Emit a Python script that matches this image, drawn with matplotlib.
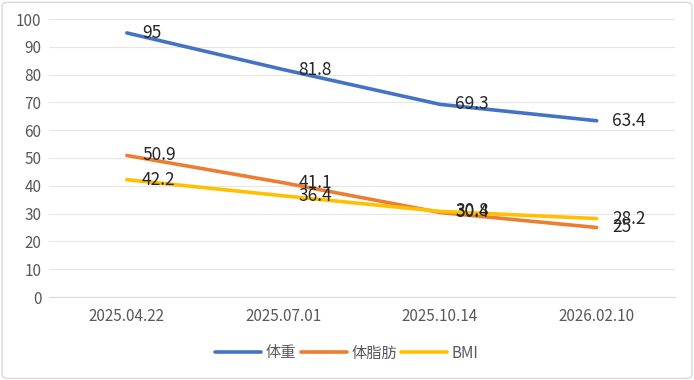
import matplotlib
matplotlib.use("Agg")
import matplotlib.pyplot as plt
from matplotlib.patches import FancyBboxPatch

plt.rcParams['font.family'] = ['Noto Sans CJK SC', 'DejaVu Sans']

categories = ["2025.04.22", "2025.07.01", "2025.10.14", "2026.02.10"]
weight = [95, 81.8, 69.3, 63.4]
body_fat = [50.9, 41.1, 30.4, 25]
bmi = [42.2, 36.4, 30.8, 28.2]
series_names = ["体重", "体脂肪", "BMI"]
colors = ["#4472C4", "#ED7D31", "#FFC000"]
yticks = [0, 10, 20, 30, 40, 50, 60, 70, 80, 90, 100]

fig = plt.figure(figsize=(6.94, 3.80), dpi=100)
ax = fig.add_axes([48.5/694, 1 - 297/380, (675 - 48.5)/694, (297 - 19)/380])

x = list(range(len(categories)))
for name, vals, c in zip(series_names, [weight, body_fat, bmi], colors):
    ax.plot(x, vals, color=c, linewidth=2.6, label=name, solid_capstyle='round', zorder=3)
    for xi, v in zip(x, vals):
        ax.annotate(f"{v:g}", (xi, v), xytext=(11, 0), textcoords='offset points',
                    ha='left', va='center', fontsize=12.5, color='#262626', zorder=4)

ax.set_xlim(-0.5, len(categories) - 0.5)
ax.set_ylim(0, 100)
ax.set_yticks(yticks)
ax.set_xticks(x)
ax.set_xticklabels(categories)
ax.grid(axis='y', color='#E6E6E6', linewidth=0.8)
ax.set_axisbelow(True)
for s in ['top', 'right', 'left']:
    ax.spines[s].set_visible(False)
ax.spines['bottom'].set_color('#D9D9D9')
ax.tick_params(axis='both', length=0, labelsize=11, colors='#595959', pad=5)
ax.tick_params(axis='x', pad=8)

leg = fig.legend(loc='center', bbox_to_anchor=(0.5, 1 - 353/380), ncol=3, frameon=False,
                 fontsize=11, handlelength=3.0, handletextpad=0.3, columnspacing=0.3)
for t in leg.get_texts():
    t.set_color('#595959')

border = FancyBboxPatch((0.003, 0.004), 0.994, 0.99, boxstyle="round,pad=0,rounding_size=0.01",
                        transform=fig.transFigure, fill=False, edgecolor='#D9D9D9', linewidth=1)
fig.patches.append(border)

fig.savefig("out.png", dpi=100)
